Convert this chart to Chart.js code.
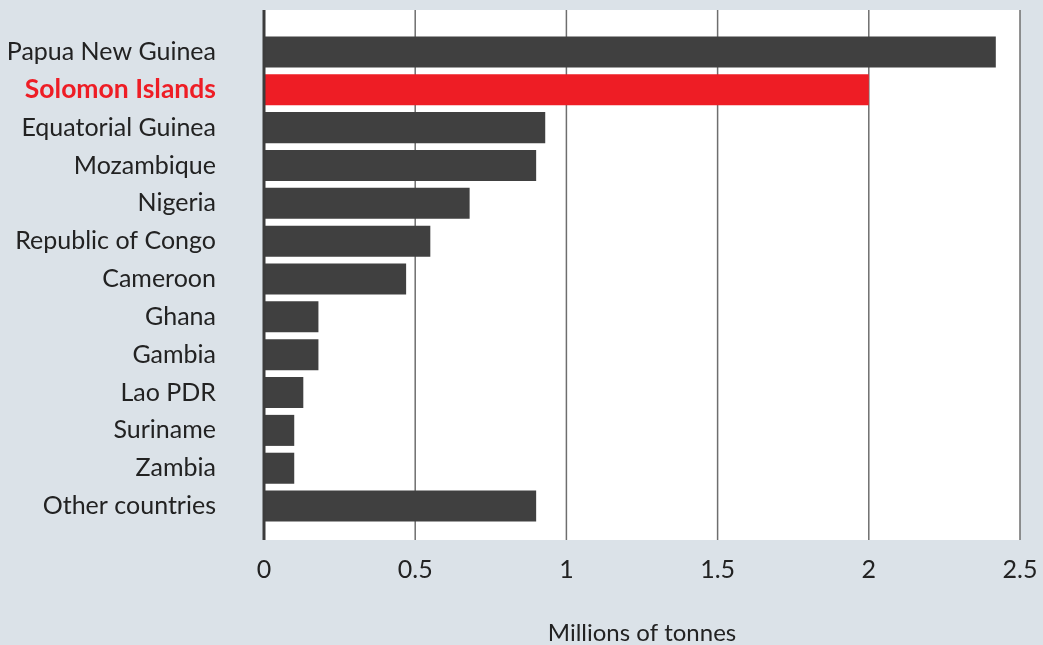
<!DOCTYPE html>
<html>
<head>
<meta charset="utf-8">
<script src="https://cdn.jsdelivr.net/npm/chart.js@4"></script>
<style>
  html, body { margin: 0; padding: 0; background: #dbe2e8; }
  #wrap { width: 1043px; height: 645px; }
</style>
</head>
<body>
<div id="wrap"><canvas id="chart" width="1043" height="645"></canvas></div>
<script>
// -------------------------
// Data
// -------------------------
const countries = [
    'Papua New Guinea', 'Solomon Islands', 'Equatorial Guinea', 'Mozambique',
    'Nigeria', 'Republic of Congo', 'Cameroon', 'Ghana', 'Gambia',
    'Lao PDR', 'Suriname', 'Zambia', 'Other countries'
];
const tonnes = [2.42, 2.0, 0.93, 0.9, 0.68, 0.55, 0.47, 0.18, 0.18, 0.13, 0.1, 0.1, 0.9];
const highlighted = 'Solomon Islands';
const xMin = 0;
const xMax = 2.5;
const xStep = 0.5;

const FONT = 'Lato, "Noto Sans", sans-serif';
const BAR = '#404040';
const RED = '#ee1d25';

// -------------------------
// Plot panel + grid lines (panel is taller than the category band)
// -------------------------
const panel = {
    id: 'panel',
    beforeDraw(chart) {
        const { ctx, chartArea, scales } = chart;
        const top = chartArea.top - 23;
        const bottom = chartArea.bottom + 15;
        ctx.save();
        ctx.fillStyle = '#dbe2e8';
        ctx.fillRect(0, 0, chart.width, chart.height);
        const left = scales.x.getPixelForValue(xMin);
        const right = scales.x.getPixelForValue(xMax);
        ctx.fillStyle = '#ffffff';
        ctx.fillRect(left - 1, top, right - left + 1, bottom - top);
        ctx.strokeStyle = '#6e6e6e';
        ctx.lineWidth = 1.5;
        scales.x.ticks.forEach(t => {
            if (t.value === xMin) return;
            const x = scales.x.getPixelForValue(t.value);
            ctx.beginPath();
            ctx.moveTo(x, top);
            ctx.lineTo(x, bottom);
            ctx.stroke();
        });
        ctx.restore();
    },
    afterDatasetsDraw(chart) {
        const { ctx, chartArea, scales } = chart;
        const x = scales.x.getPixelForValue(xMin);
        ctx.save();
        ctx.strokeStyle = '#3c3c3c';
        ctx.lineWidth = 3;
        ctx.beginPath();
        ctx.moveTo(x, chartArea.top - 23);
        ctx.lineTo(x, chartArea.bottom + 15);
        ctx.stroke();
        ctx.restore();
    }
};

new Chart(document.getElementById('chart'), {
    type: 'bar',
    data: {
        labels: countries,
        datasets: [{
            data: tonnes,
            backgroundColor: countries.map(c => c === highlighted ? RED : BAR),
            barPercentage: 0.82,
            categoryPercentage: 1
        }]
    },
    options: {
        indexAxis: 'y',
        responsive: false,
        animation: false,
        layout: { padding: { top: 33, right: 23, left: 0, bottom: 0 } },
        plugins: { legend: { display: false }, tooltip: { enabled: false } },
        scales: {
            x: {
                min: xMin,
                max: xMax,
                grid: { display: false, drawTicks: false },
                border: { display: false },
                afterFit(scale) {
                    scale.height = 120;
                    scale.paddingLeft = 0;
                    scale.paddingRight = 0;
                },
                ticks: {
                    stepSize: xStep,
                    padding: 30,
                    color: '#222',
                    callback: v => String(v),
                    font: { family: FONT, size: 25 }
                },
                title: {
                    display: true,
                    text: 'Millions of tonnes',
                    color: '#222',
                    font: { family: FONT, size: 24, lineHeight: 1 },
                    padding: { top: 0, bottom: 0 }
                }
            },
            y: {
                grid: { display: false, drawTicks: false },
                border: { display: false },
                afterFit(scale) {
                    scale.width = 264;
                    scale.paddingTop = 0;
                    scale.paddingBottom = 0;
                },
                ticks: {
                    padding: 48,
                    color: ctx => countries[ctx.index] === highlighted ? RED : '#222',
                    font: ctx => ({
                        family: FONT,
                        size: countries[ctx.index] === highlighted ? 26.5 : 25,
                        weight: countries[ctx.index] === highlighted ? 'bold' : 'normal'
                    })
                }
            }
        }
    },
    plugins: [panel]
});
</script>
</body>
</html>
